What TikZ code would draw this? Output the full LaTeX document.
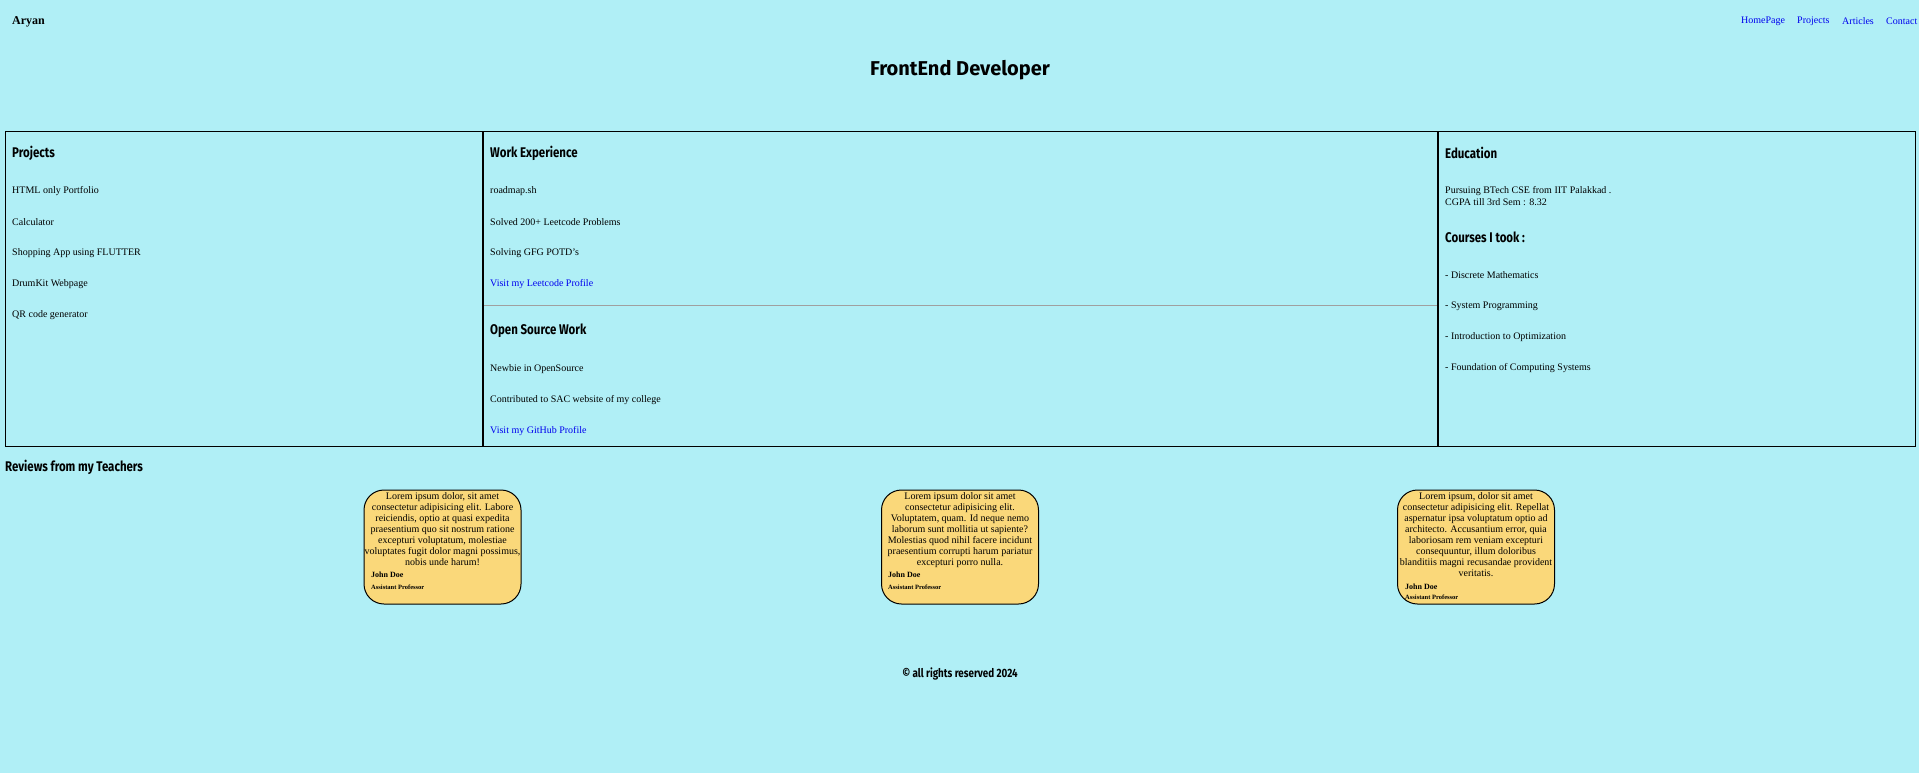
\documentclass[tikz,border=0pt]{standalone}
\usepackage{fontspec}
\setmainfont{Liberation Serif}
\newfontfamily\headfont{Fira Sans}[FakeStretch=0.82]
\newfontfamily\titlefont{Fira Sans}
\definecolor{pageblue}{HTML}{B0EFF6}
\definecolor{cardyellow}{HTML}{FAD87A}
\definecolor{linkblue}{HTML}{0000EE}
\definecolor{rulegrey}{HTML}{A0A0A0}

\begin{document}
\begin{tikzpicture}[x=1bp, y=-1bp,
    heading/.style={anchor=west, font=\headfont\bfseries\fontsize{14bp}{16bp}\selectfont},
    item/.style={anchor=west, font=\fontsize{10bp}{12bp}\selectfont},
    link/.style={item, text=linkblue},
    card/.style={draw, line width=1bp, fill=cardyellow, rounded corners=20bp,
                 minimum width=157bp, minimum height=114bp},
    review/.style={anchor=north, align=center, font=\fontsize{10bp}{11bp}\selectfont},
    teacher/.style={anchor=west, font=\bfseries\fontsize{8bp}{9bp}\selectfont},
    post/.style={anchor=west, font=\bfseries\fontsize{6.5bp}{7bp}\selectfont}]
\tikzset{every node/.style={inner sep=0pt}}
%\tikzset{every node/.style={inner sep=0pt, draw=red}}
\fill[pageblue] (0,0) rectangle (1919,773);
\useasboundingbox (0,0) rectangle (1919,773);

% top bar
\node[anchor=west, font=\bfseries\fontsize{12bp}{14bp}\selectfont] (brand) at (12,22) {Aryan};
\node[link] (nav1) at (1741,21) {HomePage};
\node[link] (nav2) at (1797,21) {Projects};
\node[link] (nav3) at (1842,21) {Articles};
\node[link] (nav4) at (1886,21) {Contact};
\node[font=\titlefont\bfseries\fontsize{20bp}{24bp}\selectfont] (title) at (960,70) {FrontEnd Developer};

% the three columns
\draw[line width=1bp] (5,131) rectangle (1915,446);
\draw[line width=2bp] (483,131) -- (483,446);
\draw[line width=2bp] (1438,131) -- (1438,446);
\draw[rulegrey, line width=1bp] (484,305) -- (1437,305);

\node[heading] (projects) at (12,153) {Projects};
\node[item] (proj1) at (12,191) {HTML only Portfolio};
\node[item] (proj2) at (12,222) {Calculator};
\node[item] (proj3) at (12,253) {Shopping App using FLUTTER};
\node[item] (proj4) at (12,284) {DrumKit Webpage};
\node[item] (proj5) at (12,315) {QR code generator};

\node[heading] (work) at (490,153) {Work Experience};
\node[item] (work1) at (490,191) {roadmap.sh};
\node[item] (work2) at (490,222) {Solved 200+ Leetcode Problems};
\node[item] (work3) at (490,253) {Solving GFG POTD's};
\node[link] (work4) at (490,284) {Visit my Leetcode Profile};

\node[heading] (open) at (490,331) {Open Source Work};
\node[item] (open1) at (490,369) {Newbie in OpenSource};
\node[item] (open2) at (490,400) {Contributed to SAC website of my college};
\node[link] (open3) at (490,431) {Visit my GitHub Profile};

\node[heading] (edu) at (1445,153) {Education};
\node[item, align=left] (edu1) at (1445,196.5) {Pursuing BTech CSE from IIT Palakkad .\\CGPA till 3rd Sem : 8.32};
\node[heading] (courses) at (1445,237) {Courses I took :};
\node[item] (course1) at (1445,275) {- Discrete Mathematics};
\node[item] (course2) at (1445,306) {- System Programming};
\node[item] (course3) at (1445,337) {- Introduction to Optimization};
\node[item] (course4) at (1445,368) {- Foundation of Computing Systems};

% reviews
\node[heading] (reviews) at (5,467) {Reviews from my Teachers};

\node[card] (card1) at (442.5,547) {};
\node[review] (rev1) at ([yshift=-2.5bp]card1.north) {Lorem ipsum dolor, sit amet\\consectetur adipisicing elit. Labore\\reiciendis, optio at quasi expedita\\praesentium quo sit nostrum ratione\\excepturi voluptatum, molestiae\\voluptates fugit dolor magni possimus,\\nobis unde harum!};
\node[teacher] (doe1) at (371,575) {John Doe};
\node[post] (prof1) at (371,587) {Assistant Professor};

\node[card] (card2) at (960,547) {};
\node[review] (rev2) at ([yshift=-2.5bp]card2.north) {Lorem ipsum dolor sit amet\\consectetur adipisicing elit.\\Voluptatem, quam. Id neque nemo\\laborum sunt mollitia ut sapiente?\\Molestias quod nihil facere incidunt\\praesentium corrupti harum pariatur\\excepturi porro nulla.};
\node[teacher] (doe2) at (888,575) {John Doe};
\node[post] (prof2) at (888,587) {Assistant Professor};

\node[card] (card3) at (1476,547) {};
\node[review] (rev3) at ([yshift=-2.5bp]card3.north) {Lorem ipsum, dolor sit amet\\consectetur adipisicing elit. Repellat\\aspernatur ipsa voluptatum optio ad\\architecto. Accusantium error, quia\\laboriosam rem veniam excepturi\\consequuntur, illum doloribus\\blanditiis magni recusandae provident\\veritatis.};
\node[teacher] (doe3) at (1405,587) {John Doe};
\node[post] (prof3) at (1405,597) {Assistant Professor};

\node[font=\headfont\bfseries\fontsize{12bp}{14bp}\selectfont] (footer) at (960,674) {© all rights reserved 2024};
\end{tikzpicture}
\end{document}
